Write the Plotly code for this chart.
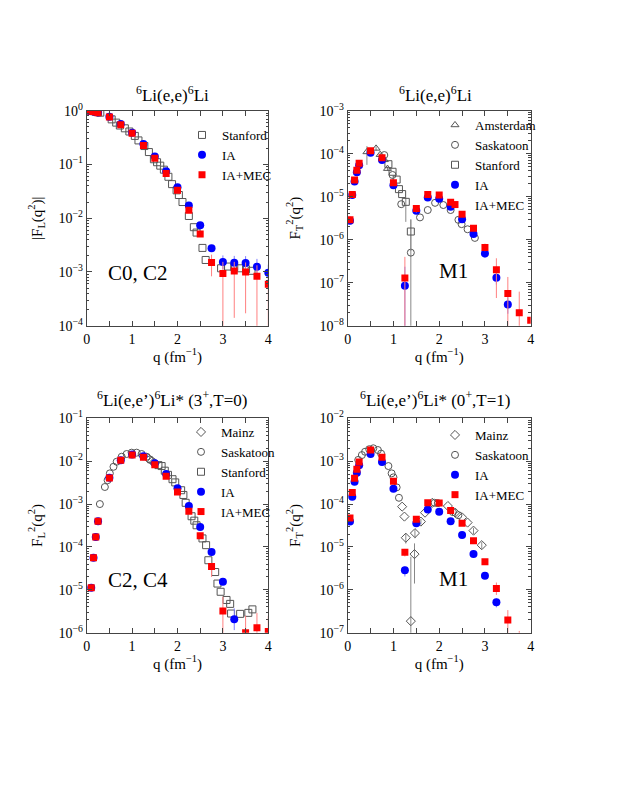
import plotly.graph_objects as go

# ---------------- Panel 1: 6Li(e,e)6Li, C0+C2 ----------------
q_ia1 = [0.05, 0.1, 0.15, 0.2, 0.25, 0.5, 0.75, 1.0, 1.25, 1.5, 1.75, 2.0, 2.25, 2.5, 2.75, 3.0, 3.25, 3.5, 3.75, 4.0]
ia1 = [0.995, 0.985, 0.97, 0.95, 0.93, 0.77, 0.565, 0.39, 0.24, 0.14, 0.075, 0.0375, 0.0173, 0.0074, 0.00275,
       0.00153, 0.00149, 0.00147, 0.00125, 0.00097]
ia1_ep = [0]*15 + [0.0005, 0.0005, 0.0005, 0.0005, 0.0004]
ia1_em = [0]*15 + [0.0004, 0.0004, 0.0004, 0.0004, 0.0003]
mec1 = [0.995, 0.985, 0.97, 0.95, 0.92, 0.76, 0.55, 0.38, 0.225, 0.13, 0.068, 0.033, 0.014, 0.0051, 0.0015,
        0.00094, 0.00104, 0.001, 0.00083, 0.00059]
mec1_ep = [0]*14 + [0.0006, 0.0006, 0.0005, 0.0005, 0.0005, 0.00017]
mec1_em = [0]*14 + [0.00067, 0.00094, 0.0009, 0.00083, 0.00083, 0.00059]
q_st1 = [0.1, 0.15, 0.2, 0.25, 0.3, 0.55, 0.65, 0.73, 0.84, 0.94, 1.06, 1.14, 1.27, 1.37, 1.48, 1.55, 1.62,
         1.7, 1.8, 1.88, 1.98, 2.03, 2.11, 2.25, 2.36, 2.42, 2.55, 2.62, 2.96, 3.11, 3.25, 3.38, 3.51, 3.63]
st1 = [0.99, 0.98, 0.96, 0.94, 0.92, 0.69, 0.60, 0.53, 0.47, 0.41, 0.34, 0.28, 0.22, 0.17, 0.125, 0.11, 0.095,
       0.08, 0.059, 0.043, 0.033, 0.027, 0.020, 0.011, 0.0068, 0.0054, 0.0028, 0.00167, 0.00117, 0.00126,
       0.00123, 0.00117, 0.00112, 0.00105]

# ---------------- Panel 2: 6Li(e,e)6Li, M1 ----------------
q_ia2 = [0.05, 0.1, 0.15, 0.2, 0.25, 0.5, 0.75, 1.0, 1.25, 1.5, 1.75, 2.0, 2.25, 2.5, 2.75, 3.0, 3.25, 3.5]
ia2 = [2.77e-6, 1.09e-5, 2.27e-5, 3.68e-5, 5.36e-5, 1.05e-4, 7.1e-5, 1.84e-5, 8.5e-8, 4.72e-6, 9.6e-6, 8.97e-6,
       5.85e-6, 3.0e-6, 1.35e-6, 4.8e-7, 1.3e-7, 3.1e-8]
ia2_ep = [0]*8 + [1.5e-7] + [0]*6 + [1e-7, 5e-8, 1.5e-8]
ia2_em = [0]*8 + [8.5e-8] + [0]*6 + [1e-7, 4e-8, 1.2e-8]
q_mec2 = [0.05, 0.1, 0.15, 0.2, 0.25, 0.5, 0.75, 1.0, 1.25, 1.5, 1.75, 2.0, 2.25, 2.5, 2.75, 3.0, 3.25, 3.5,
          3.75, 4.0]
mec2 = [2.9e-6, 1.13e-5, 2.45e-5, 4.1e-5, 6.0e-5, 1.17e-4, 8.1e-5, 2.1e-5, 1.29e-7, 5.3e-6, 1.13e-5, 1.1e-5,
        7.4e-6, 3.9e-6, 1.84e-6, 6.6e-7, 2.0e-7, 5.6e-8, 2.0e-8, 1.33e-8]
mec2_ep = [0]*8 + [2.7e-7, 1e-6, 0, 1.5e-6, 0, 0, 0, 1.5e-7, 1.7e-7, 8e-8, 4.2e-8, 0]
mec2_em = [0]*8 + [1.29e-7, 1e-6, 0, 1.5e-6, 0, 0, 0, 1.2e-7, 1.56e-7, 5.6e-8, 2.0e-8, 0]
q_am2 = [0.42, 0.62, 0.71, 0.8, 0.87]
am2 = [1.1e-4, 1.33e-4, 9.5e-5, 7.2e-5, 4.5e-5]
am2_ep = [4e-5, 1.5e-5, 1e-5, 8e-6, 5e-6]
am2_em = [5.5e-5, 1.5e-5, 1e-5, 8e-6, 5e-6]
q_sk2 = [0.8, 0.98, 1.17, 1.38, 1.58, 1.75, 1.91, 2.09, 2.25, 2.42, 2.49, 2.62, 2.78]
sk2 = [9.3e-5, 3.2e-5, 6.7e-6, 5e-7, 3.3e-6, 4.9e-6, 7.2e-6, 6.4e-6, 4.9e-6, 2.9e-6, 2.3e-6, 1.75e-6, 1.1e-6]
sk2_ep = [0, 0, 0, 2.45e-6, 0, 0, 0, 0, 0, 0, 0, 0, 0]
sk2_em = [0, 0, 0, 5e-7, 0, 0, 0, 0, 0, 0, 0, 0, 0]
q_st2 = [0.89, 0.98, 1.07, 1.12, 1.19, 1.27, 1.38]
st2 = [5.7e-5, 3.8e-5, 2.5e-5, 1.5e-5, 1.15e-5, 7.6e-6, 1.55e-6]
st2_ep = [0, 0, 0, 0, 0, 2e-6, 1.4e-6]
st2_em = [0, 0, 0, 0, 0, 5e-6, 1.0e-6]

# ---------------- Panel 3: 6Li(e,e')6Li* (3+,T=0), C2+C4 ----------------
q_ia3 = [0.1, 0.15, 0.2, 0.25, 0.5, 0.75, 1.0, 1.25, 1.5, 1.75, 2.0, 2.25, 2.5, 2.75, 3.0, 3.25]
ia3 = [1.12e-5, 5.6e-5, 1.7e-4, 3.97e-4, 4.13e-3, 1.05e-2, 1.44e-2, 1.3e-2, 8.9e-3, 5.0e-3, 2.33e-3, 9.0e-4,
       2.92e-4, 7.6e-5, 1.55e-5, 2.05e-6]
ia3_ep = [0]*14 + [2e-6, 1.65e-6]
ia3_em = [0]*14 + [2e-6, 0.9e-6]
q_mec3 = [0.1, 0.15, 0.2, 0.25, 0.5, 0.75, 1.0, 1.25, 1.5, 1.75, 2.0, 2.25, 2.5, 2.75, 3.0, 3.5, 3.75, 4.0]
mec3 = [1.12e-5, 5.6e-5, 1.7e-4, 3.97e-4, 4.05e-3, 1.05e-2, 1.4e-2, 1.23e-2, 8.3e-3, 4.45e-3, 1.91e-3, 6.8e-4,
        1.83e-4, 3.5e-5, 3.2e-6, 1.0e-6, 1.3e-6, 1.07e-6]
mec3_ep = [0]*12 + [2.5e-5, 7e-6, 3.7e-6, 1.5e-6, 1.6e-6, 1.4e-6]
mec3_em = [0]*12 + [2.5e-5, 1.5e-5, 3.2e-6, 1.0e-6, 1.3e-6, 1.07e-6]
q_mz3 = [1.36, 1.44, 1.5]
mz3 = [1.15e-2, 1.0e-2, 9.0e-3]
q_sk3 = [0.29, 0.40, 0.46, 0.51, 0.59, 0.66, 0.77, 0.88, 0.99, 1.10, 1.21, 1.32, 1.39]
sk3 = [1.0e-3, 2.5e-3, 3.6e-3, 5.2e-3, 7.4e-3, 9.7e-3, 1.27e-2, 1.47e-2, 1.58e-2, 1.58e-2, 1.47e-2, 1.27e-2,
       1.1e-2]
q_st3 = [1.58, 1.65, 1.72, 1.79, 1.89, 1.95, 2.08, 2.13, 2.18, 2.31, 2.37, 2.42, 2.55, 2.63, 2.68, 2.83, 2.88,
         2.95, 3.08, 3.16, 3.18, 3.38, 3.56, 3.65]
st3 = [8.1e-3, 7.7e-3, 6.0e-3, 4.8e-3, 3.8e-3, 3.2e-3, 2.1e-3, 1.63e-3, 1.07e-3, 5.2e-4, 4.1e-4, 3.2e-4, 1.58e-4,
       1.1e-4, 4.9e-5, 2.6e-5, 1.4e-5, 9.0e-6, 5.8e-6, 4.7e-6, 2.8e-6, 2.75e-6, 2.9e-6, 3.5e-6]

# ---------------- Panel 4: 6Li(e,e')6Li* (0+,T=1), M1 ----------------
q_ia4 = [0.05, 0.1, 0.15, 0.2, 0.25, 0.5, 0.75, 1.0, 1.25, 1.5, 1.75, 2.0, 2.25, 2.5, 2.75, 3.0, 3.25]
ia4 = [3.9e-5, 1.49e-4, 3.33e-4, 5.4e-4, 8.0e-4, 1.47e-3, 9.6e-4, 2.29e-4, 2.85e-6, 3.55e-5, 7.5e-5, 6.65e-5,
       3.96e-5, 1.9e-5, 6.85e-6, 2.14e-6, 5.1e-7]
ia4_ep = [0]*8 + [6.5e-7] + [0]*7 + [1.2e-7]
ia4_em = [0]*8 + [8e-7] + [0]*7 + [1.2e-7]
q_mec4 = [0.05, 0.1, 0.15, 0.2, 0.25, 0.5, 0.75, 1.0, 1.25, 1.5, 1.75, 2.0, 2.25, 2.5, 2.75, 3.0, 3.25, 3.5, 3.75]
mec4 = [4.7e-5, 1.85e-4, 4.0e-4, 6.46e-4, 9.6e-4, 1.83e-3, 1.23e-3, 3.4e-4, 7.5e-6, 4.4e-5, 1.08e-4, 1.06e-4,
        7.1e-5, 3.55e-5, 1.4e-5, 4.5e-6, 1.08e-6, 1.97e-7, 8e-8]
mec4_ep = [0]*8 + [1.5e-6] + [0]*7 + [4e-7, 1.4e-7, 3e-8]
mec4_em = [0]*8 + [1.5e-6] + [0]*7 + [3.2e-7, 1.97e-7, 8e-8]
q_mz4 = [1.19, 1.24, 1.27, 1.38, 1.46, 1.47, 1.60, 1.69, 1.85, 2.19, 2.35, 2.5, 2.62, 2.75, 2.93]
mz4 = [8.7e-5, 5.1e-5, 1.64e-5, 1.86e-7, 6.8e-6, 2.1e-5, 3.9e-5, 6.3e-5, 1.07e-4, 9.0e-5, 6.3e-5, 4.9e-5,
       3.7e-5, 2.4e-5, 1.1e-5]
mz4_ep = [0, 0, 4.5e-6, 5.7e-6, 5.3e-6, 5e-6, 6e-6, 0, 0, 0, 0, 0, 0, 4e-6, 2e-6]
mz4_em = [0, 0, 4.4e-6, 1.86e-7, 5.4e-6, 5e-6, 6e-6, 0, 0, 0, 0, 0, 0, 4e-6, 2e-6]
q_sk4 = [0.23, 0.31, 0.38, 0.47, 0.56, 0.66, 0.73, 0.89, 0.96, 1.0, 1.07, 1.12, 1.9, 1.97, 2.3, 2.42]
sk4 = [1.07e-3, 1.39e-3, 1.66e-3, 1.9e-3, 2.0e-3, 1.82e-3, 1.5e-3, 7.7e-4, 5.2e-4, 4.2e-4, 2.45e-4, 1.4e-4,
       1.07e-4, 1.05e-4, 6.5e-5, 5.5e-5]

# ---------------- tick labels ----------------
x_ticks = [0, 1, 2, 3, 4]
x_ticktext = ["0", "1", "2", "3", "4"]


def dec_ticks(lo, hi):
    vals = [10.0 ** p for p in range(lo, hi + 1)]
    txt = ["10<sup>" + (str(p) if p >= 0 else "\u2212" + str(-p)) + "</sup>" for p in range(lo, hi + 1)]
    return vals, txt


FONT = "Liberation Serif"
GRAY = "#555555"
BLUE = "#0000ff"
RED = "#ff0000"

fig = go.Figure()


def eb(ep, em, color):
    if ep is None:
        return dict(visible=False)
    return dict(type="data", symmetric=False, array=ep, arrayminus=em, color=color, thickness=1, width=0,
                visible=True)


def exp_trace(name, q, v, sym, n, legend, ep=None, em=None):
    fig.add_trace(go.Scatter(
        x=q, y=v, mode="markers", name=name, legend=legend,
        xaxis="x" + ("" if n == 1 else str(n)), yaxis="y" + ("" if n == 1 else str(n)),
        marker=dict(symbol=sym, size=7, color=GRAY, line=dict(width=1, color=GRAY)),
        error_y=eb(ep, em, "#888888")))


def calc_trace(name, q, v, n, legend, ep=None, em=None):
    blue = name == "IA"
    fig.add_trace(go.Scatter(
        x=q, y=v, mode="markers", name=name, legend=legend,
        xaxis="x" + ("" if n == 1 else str(n)), yaxis="y" + ("" if n == 1 else str(n)),
        marker=dict(symbol="circle" if blue else "square", size=8 if blue else 7,
                    color=BLUE if blue else RED, line=dict(width=0)),
        error_y=eb(ep, em, "#7f7fff" if blue else "#ff8080")))


# panel 1
exp_trace("Stanford", q_st1, st1, "square-open", 1, "legend")
calc_trace("IA", q_ia1, ia1, 1, "legend", ia1_ep, ia1_em)
calc_trace("IA+MEC", q_ia1, mec1, 1, "legend", mec1_ep, mec1_em)
# panel 2
exp_trace("Amsterdam", q_am2, am2, "triangle-up-open", 2, "legend2", am2_ep, am2_em)
exp_trace("Saskatoon", q_sk2, sk2, "circle-open", 2, "legend2", sk2_ep, sk2_em)
exp_trace("Stanford", q_st2, st2, "square-open", 2, "legend2", st2_ep, st2_em)
calc_trace("IA", q_ia2, ia2, 2, "legend2", ia2_ep, ia2_em)
calc_trace("IA+MEC", q_mec2, mec2, 2, "legend2", mec2_ep, mec2_em)
# panel 3
exp_trace("Mainz", q_mz3, mz3, "diamond-open", 3, "legend3")
exp_trace("Saskatoon", q_sk3, sk3, "circle-open", 3, "legend3")
exp_trace("Stanford", q_st3, st3, "square-open", 3, "legend3")
calc_trace("IA", q_ia3, ia3, 3, "legend3", ia3_ep, ia3_em)
calc_trace("IA+MEC", q_mec3, mec3, 3, "legend3", mec3_ep, mec3_em)
# panel 4
exp_trace("Mainz", q_mz4, mz4, "diamond-open", 4, "legend4", mz4_ep, mz4_em)
exp_trace("Saskatoon", q_sk4, sk4, "circle-open", 4, "legend4")
calc_trace("IA", q_ia4, ia4, 4, "legend4", ia4_ep, ia4_em)
calc_trace("IA+MEC", q_mec4, mec4, 4, "legend4", mec4_ep, mec4_em)

# page body has an 8px margin: size the figure so the page needs no scrollbars
OFF = 8
W, H = 623 - 2 * OFF, 806 - 2 * OFF
LINE = "#444444"


def px_x(p):
    return (p - OFF) / W


def px_y(p):
    return 1 - (p - OFF) / H


XD_L = [px_x(86.7), px_x(268.3)]
XD_R = [px_x(347.7), px_x(530.7)]
YD_T = [px_y(325.7), px_y(110.7)]
YD_B = [px_y(632.7), px_y(418.3)]

tickfont = dict(family=FONT, size=14, color="black")


def xaxis(domain, anchor):
    return dict(domain=domain, anchor=anchor, range=[0, 4], tickmode="array", tickvals=x_ticks,
                ticktext=x_ticktext, ticks="inside", ticklen=5, tickcolor=LINE, mirror="allticks",
                showline=True, linecolor=LINE, linewidth=1, showgrid=False, zeroline=False,
                minor=dict(dtick=0.5, ticks="inside", ticklen=5, tickcolor=LINE, showgrid=False),
                tickfont=tickfont,
                title=dict(text="q (fm<sup>\u22121</sup>)", font=dict(family=FONT, size=15, color="black"),
                           standoff=2))


def yaxis(domain, anchor, lo, hi, title, standoff):
    vals, txt = dec_ticks(lo, hi)
    return dict(domain=domain, anchor=anchor, type="log", range=[lo, hi], tickmode="array", tickvals=vals,
                ticktext=txt, ticks="inside", ticklen=5, tickcolor=LINE, mirror="allticks", showline=True,
                linecolor=LINE, linewidth=1, showgrid=False, zeroline=False,
                minor=dict(dtick="D1", ticks="inside", ticklen=2.5, tickcolor=LINE, showgrid=False),
                tickfont=tickfont,
                title=dict(text=title, font=dict(family=FONT, size=15, color="black"), standoff=standoff))


def legend_cfg(xpx, ypx):
    return dict(x=px_x(xpx), y=px_y(ypx), xanchor="left", yanchor="top", bgcolor="rgba(0,0,0,0)",
                borderwidth=0, font=dict(family=FONT, size=13, color="black"), itemwidth=30,
                tracegroupgap=0)


title_font = dict(family=FONT, size=17, color="black")
big_font = dict(family=FONT, size=21, color="black")


def label(text, xp, yp, font):
    return dict(text=text, x=px_x(xp), y=px_y(yp), xref="paper", yref="paper", xanchor="center",
                yanchor="middle", showarrow=False, font=font)


ann = [
    label("<sup>6</sup>Li(e,e)<sup>6</sup>Li", 172.5, 94, title_font),
    label("<sup>6</sup>Li(e,e)<sup>6</sup>Li", 435, 94, title_font),
    label("<sup>6</sup>Li(e,e\u2019)<sup>6</sup>Li* (3<sup>+</sup>,T=0)", 172, 399, title_font),
    label("<sup>6</sup>Li(e,e\u2019)<sup>6</sup>Li* (0<sup>+</sup>,T=1)", 435, 399, title_font),
    label("C0, C2", 138, 273, big_font),
    label("M1", 453, 271, big_font),
    label("C2, C4", 138, 580, big_font),
    label("M1", 453, 579, big_font),
]

fig.update_layout(
    width=W, height=H, autosize=False,
    margin=dict(l=0, r=0, t=0, b=0, autoexpand=False),
    paper_bgcolor="white", plot_bgcolor="white",
    font=dict(family=FONT, color="black"),
    showlegend=True,
    xaxis=xaxis(XD_L, "y"), yaxis=yaxis(YD_T, "x", -4, 0, "|F<sub>L</sub>(q<sup>2</sup>)|", 12),
    xaxis2=xaxis(XD_R, "y2"),
    yaxis2=yaxis(YD_T, "x2", -8, -3, "F<sub>T</sub><sup>2</sup>(q<sup>2</sup>)", 15),
    xaxis3=xaxis(XD_L, "y3"),
    yaxis3=yaxis(YD_B, "x3", -6, -1, "F<sub>L</sub><sup>2</sup>(q<sup>2</sup>)", 12),
    xaxis4=xaxis(XD_R, "y4"),
    yaxis4=yaxis(YD_B, "x4", -7, -2, "F<sub>T</sub><sup>2</sup>(q<sup>2</sup>)", 15),
    legend=legend_cfg(182, 120),
    legend2=legend_cfg(435, 110),
    legend3=legend_cfg(181, 417),
    legend4=legend_cfg(435, 420),
    annotations=ann,
)

fig.write_html("out.html")
